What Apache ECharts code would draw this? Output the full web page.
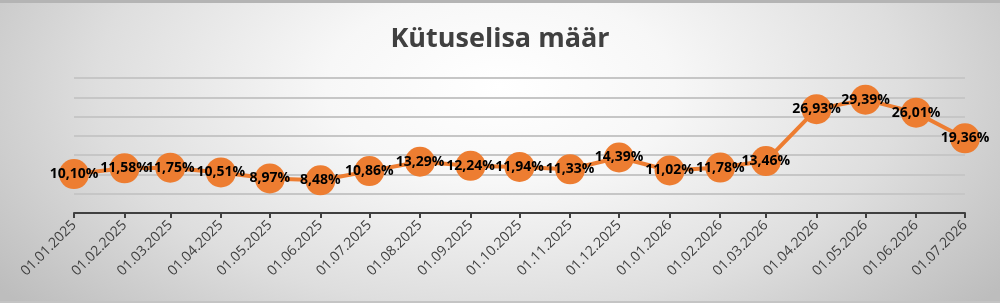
<!DOCTYPE html>
<html>
<head>
<meta charset="utf-8">
<script src="https://cdn.jsdelivr.net/npm/echarts@6/dist/echarts.min.js"></script>
<style>
	html, body { margin: 0; padding: 0; }
	#wrap {
		width: 1000px; height: 303px; box-sizing: border-box;
		border-top: 3px solid #b4b4b4; border-bottom: 2px solid #c4c4c4;
		background: radial-gradient(ellipse 62% 115% at 50% 28%, #ffffff 0%, #f7f7f7 28%, #dedede 65%, #bdbdbd 100%);
	}
	#ec1 { width: 1000px; height: 298px; }
</style>
</head>
<body>
<div id="wrap"><div id="ec1"></div></div>
<script>
var kuupaevad = ['01.01.2025', '01.02.2025', '01.03.2025', '01.04.2025', '01.05.2025', '01.06.2025',
	'01.07.2025', '01.08.2025', '01.09.2025', '01.10.2025', '01.11.2025', '01.12.2025',
	'01.01.2026', '01.02.2026', '01.03.2026', '01.04.2026', '01.05.2026', '01.06.2026', '01.07.2026'];
var maarad = [10.10, 11.58, 11.75, 10.51, 8.97, 8.48, 10.86, 13.29, 12.24, 11.94, 11.33, 14.39,
	11.02, 11.78, 13.46, 26.93, 29.39, 26.01, 19.36];

// päevade arv alates 01.01.2025 (kuupäevatelg nagu Excelis)
function paev(s) {
	var p = s.split('.');
	return Math.round((Date.UTC(+p[2], +p[1] - 1, +p[0]) - Date.UTC(2025, 0, 1)) / 86400000);
}

kutuselisa();

function kutuselisa(){
	var myCharts = echarts.init(document.getElementById('ec1'));
	var paevad = kuupaevad.map(paev);
	var silt = {};
	var data = [];
	for (var i = 0; i < paevad.length; i++) {
		data.push([paevad[i], maarad[i]]);
		silt[paevad[i]] = kuupaevad[i];
	}
	var option = {
		backgroundColor: 'transparent',
		animation: false,
		title: {
			text: 'Kütuselisa määr',
			left: 'center',
			top: 18,
			textStyle: {
				fontFamily: 'Open Sans',
				fontWeight: 'bold',
				fontSize: 27,
				color: '#404040'
			}
		},
		grid: {
			left: 74,
			right: 35,
			top: 75,
			bottom: 88
		},
		xAxis: {
			type: 'value',
			min: paevad[0],
			max: paevad[paevad.length - 1],
			axisLine: {
				lineStyle: { color: '#404040', width: 2 }
			},
			axisTick: {
				show: true,
				length: 5,
				customValues: paevad,
				lineStyle: { color: '#404040', width: 2 }
			},
			axisLabel: {
				rotate: 45,
				margin: 10,
				customValues: paevad,
				formatter: function (v) { return silt[v]; },
				fontFamily: 'Open Sans',
				fontSize: 14,
				color: '#404040'
			},
			splitLine: { show: false }
		},
		yAxis: {
			type: 'value',
			min: 0,
			max: 35,
			interval: 5,
			axisLine: { show: false },
			axisTick: { show: false },
			axisLabel: { show: false },
			splitLine: {
				lineStyle: { color: '#c6c6c6', width: 2 }
			}
		},
		series: [
			{
				type: 'line',
				data: data,
				symbol: 'circle',
				symbolSize: 30,
				itemStyle: { color: '#ed7d31' },
				lineStyle: { color: '#ed7d31', width: 4 },
				label: {
					show: true,
					position: 'inside',
					formatter: function (p) { return p.value[1].toFixed(2).replace('.', ',') + '%'; },
					fontFamily: 'Open Sans',
					fontWeight: 'bold',
					fontSize: 14,
					color: '#000'
				}
			}
		]
	};
	myCharts.setOption(option);
}
</script>
</body>
</html>
